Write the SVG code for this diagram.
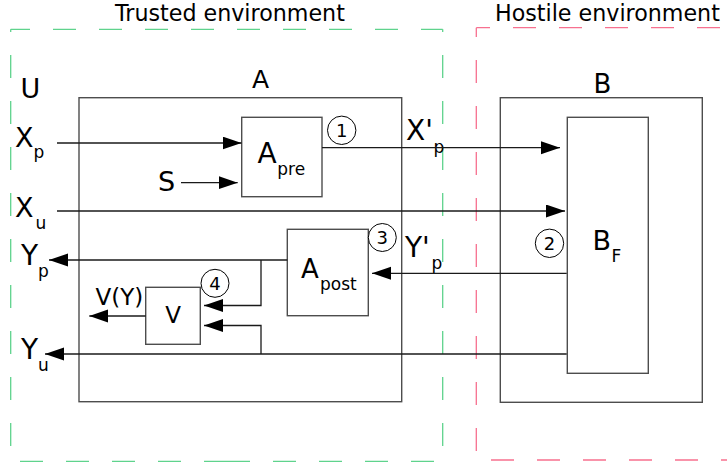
<svg xmlns="http://www.w3.org/2000/svg" width="727" height="464" viewBox="0 0 727 464">
<style>
text{font-family:"DejaVu Sans","Liberation Sans",sans-serif;fill:#000}
.env{fill:none;stroke-width:1.3;stroke-dasharray:23 23}
.g{stroke:#5fd38d}
.pk{stroke:#f7708f}
.box{fill:none;stroke:#4d4d4d;stroke-width:1.4}
.c{fill:none;stroke:#1a1a1a;stroke-width:1.3}
.num{fill:#fff;stroke:#000;stroke-width:1}
.big{font-size:27px}
.sub{font-size:17px}
.dig{font-size:18px;text-anchor:middle}
</style>
<defs>
<marker id="ah" markerWidth="20" markerHeight="14" refX="19" refY="6.5" orient="auto" markerUnits="userSpaceOnUse">
<path d="M0,0 L19,6.5 L0,13 z" fill="#000"/>
</marker>
</defs>

<g id="trusted-env">
<path class="env g" d="M10.7,29.3 H442.7" stroke-dashoffset="3.7"/>
<path class="env g" d="M10.7,29.3 V461.3" stroke-dashoffset="20.3"/>
<path class="env g" d="M442.7,29.3 V461.3" stroke-dashoffset="20.3"/>
<path class="env g" d="M442.7,461.3 H227" stroke-dashoffset="37.3"/>
<path class="env g" d="M227,461.3 H10.7"/>
<text x="115" y="20.5" font-size="22.2px">Trusted environment</text>
</g>

<g id="hostile-env">
<path class="env pk" d="M476.3,27.7 H740" stroke-dashoffset="9.3"/>
<path class="env pk" d="M476.3,27.7 V460" stroke-dashoffset="13.7"/>
<path class="env pk" d="M476.3,460 H740" stroke-dashoffset="31.3"/>
<text x="495" y="20.5" font-size="22.2px">Hostile environment</text>
</g>

<g id="U"><text x="20.5" y="98" font-size="27px">U</text></g>

<g id="A">
<rect class="box" x="79" y="97.7" width="322.7" height="304"/>
<text x="260.5" y="88.3" font-size="25px" text-anchor="middle">A</text>
</g>

<g id="Apre">
<rect class="box" x="241.7" y="117.3" width="80.3" height="79.4"/>
<text x="257.5" y="162.5" font-size="28px">A<tspan x="277.3" y="174.5" class="sub">pre</tspan></text>
<circle class="num" cx="341.7" cy="130.3" r="14.2"/>
<text class="dig" x="341.7" y="136.8">1</text>
</g>

<g id="Apost">
<rect class="box" x="287.3" y="229.3" width="81" height="86.4"/>
<text x="301" y="278.3" font-size="26px">A<tspan x="320" y="290" class="sub">post</tspan></text>
<circle class="num" cx="382.3" cy="237.5" r="14"/>
<text class="dig" x="382.3" y="244">3</text>
</g>

<g id="V">
<rect class="box" x="145.7" y="287.3" width="54.6" height="57"/>
<text x="173" y="323.3" font-size="23px" text-anchor="middle">V</text>
<circle class="num" cx="215" cy="283.3" r="14"/>
<text class="dig" x="215" y="289.8">4</text>
</g>

<g id="B">
<rect class="box" x="500.3" y="97.7" width="202" height="304.6"/>
<text x="602.3" y="92.7" font-size="26px" text-anchor="middle">B</text>
</g>

<g id="BF">
<rect class="box" x="567.3" y="117.3" width="81" height="256"/>
<text x="592.4" y="250" font-size="27px">B<tspan x="611.6" y="261.7" class="sub">F</tspan></text>
<circle class="num" cx="549.5" cy="243.3" r="14.2"/>
<text class="dig" x="549.5" y="249.8">2</text>
</g>

<g id="labels">
<text x="15" y="146.5" class="big">X<tspan x="33.5" y="157.5" class="sub">p</tspan></text>
<text x="158" y="190.7" class="big">S</text>
<text x="15" y="216.7" class="big">X<tspan x="35.5" y="229" class="sub">u</tspan></text>
<text x="21" y="265" font-size="28px">Y<tspan x="38" y="276.5" class="sub">p</tspan></text>
<text x="21" y="359.3" font-size="28px">Y<tspan x="38" y="370.5" class="sub">u</tspan></text>
<text x="406" y="140" font-size="28px">X'<tspan x="433.5" y="153" class="sub">p</tspan></text>
<text x="405" y="256.5" font-size="28px">Y'<tspan x="431.5" y="269" class="sub">p</tspan></text>
<text x="95.5" y="305" font-size="23px">V(Y)</text>
</g>

<g id="connectors">
<line class="c" x1="57" y1="143" x2="241.5" y2="143" marker-end="url(#ah)"/>
<line class="c" x1="181" y1="182.7" x2="237.7" y2="182.7" marker-end="url(#ah)"/>
<line class="c" x1="322" y1="147.7" x2="560" y2="147.7" marker-end="url(#ah)"/>
<line class="c" x1="57" y1="211" x2="565" y2="211" marker-end="url(#ah)"/>
<line class="c" x1="287.3" y1="260" x2="49" y2="260" marker-end="url(#ah)"/>
<line class="c" x1="566.7" y1="273.3" x2="372" y2="273.3" marker-end="url(#ah)"/>
<path class="c" d="M261,260 V305.5 H204" marker-end="url(#ah)"/>
<path class="c" d="M261,354 V325.5 H204" marker-end="url(#ah)"/>
<line class="c" x1="566.7" y1="354" x2="45" y2="354" marker-end="url(#ah)"/>
<line class="c" x1="145.7" y1="316" x2="89.3" y2="316" marker-end="url(#ah)"/>
</g>
</svg>
